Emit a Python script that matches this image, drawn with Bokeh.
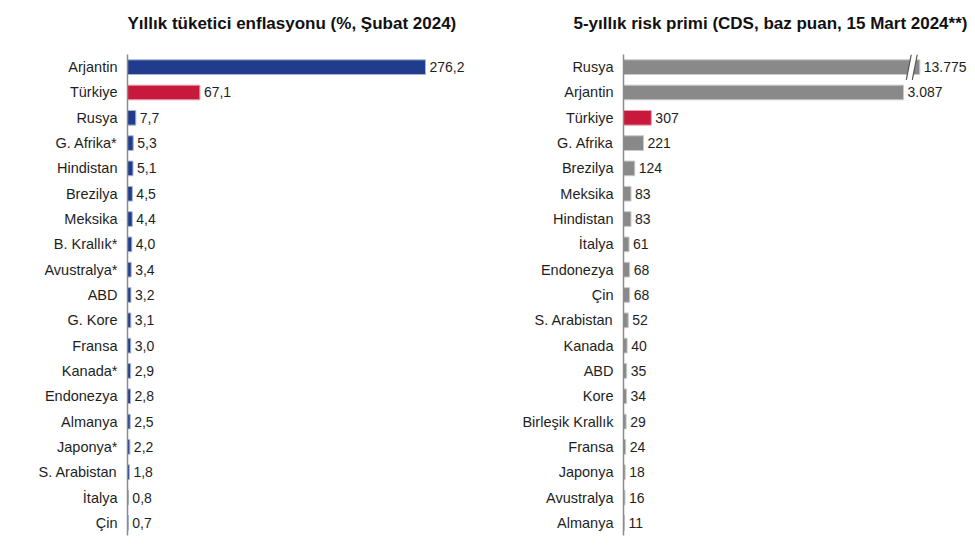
import numpy as np
from bokeh.plotting import figure
from bokeh.layouts import row
from bokeh.models import Range1d, FixedTicker, ColumnDataSource
from bokeh.core.properties import value
from bokeh.embed import file_html
from bokeh.resources import INLINE

# ---- data ----
inf_countries = ["Arjantin", "Türkiye", "Rusya", "G. Afrika*", "Hindistan", "Brezilya", "Meksika",
                 "B. Krallık*", "Avustralya*", "ABD", "G. Kore", "Fransa", "Kanada*", "Endonezya",
                 "Almanya", "Japonya*", "S. Arabistan", "İtalya", "Çin"]
inf_values = [276.2, 67.1, 7.7, 5.3, 5.1, 4.5, 4.4, 4.0, 3.4, 3.2, 3.1, 3.0, 2.9, 2.8, 2.5, 2.2, 1.8, 0.8, 0.7]

cds_countries = ["Rusya", "Arjantin", "Türkiye", "G. Afrika", "Brezilya", "Meksika", "Hindistan",
                 "İtalya", "Endonezya", "Çin", "S. Arabistan", "Kanada", "ABD", "Kore",
                 "Birleşik Krallık", "Fransa", "Japonya", "Avustralya", "Almanya"]
cds_values = [13775, 3087, 307, 221, 124, 83, 83, 61, 68, 68, 52, 40, 35, 34, 29, 24, 18, 16, 11]

highlight = "Türkiye"
cds_break_at = 3267   # axis break: longer bars are drawn truncated here

FONT = value("Liberation Sans")
BLUE = "#213c8c"
BLUE_EDGE = "#a9b6d6"
RED = "#c8183c"
RED_EDGE = "#e5a3b1"
GREY = "#898989"
GREY_EDGE = "#c9c9c9"
TEXT = "#1e1e1e"


def make_panel(title, cats, vals, labels, base_color, base_edge, width, border_left, x_end, title_offset,
               cap=None):
    n = len(cats)
    idx = list(range(n))
    disp = list(np.minimum(vals, cap)) if cap is not None else list(vals)
    colors = [RED if c == highlight else base_color for c in cats]
    edges = [RED_EDGE if c == highlight else base_edge for c in cats]
    src = ColumnDataSource(dict(y=idx, v=disp, c=colors, e=edges, lab=labels))

    p = figure(width=width, height=537, output_backend="svg", toolbar_location=None,
               x_range=Range1d(0, x_end), y_range=Range1d(n - 0.5, -0.5),
               x_axis_location=None,
               min_border_left=border_left, min_border_right=0, min_border_top=54,
               min_border_bottom=2)
    p.outline_line_color = None
    p.background_fill_color = "white"
    p.grid.visible = False

    p.hbar(y="y", left=0, right="v", height=0.58, fill_color="c", line_color="e", line_width=1,
           source=src)
    p.text(x="v", y="y", text="lab", source=src, x_offset=4, text_baseline="middle",
           text_align="left", text_font=FONT, text_font_size="14px", text_color=TEXT)

    yax = p.yaxis[0]
    yax.ticker = FixedTicker(ticks=idx)
    yax.major_label_overrides = {i: c for i, c in enumerate(cats)}
    yax.major_tick_line_color = None
    yax.minor_tick_line_color = None
    yax.axis_line_color = "#8c8c8c"
    yax.axis_line_width = 1.5
    yax.major_label_standoff = 4
    yax.major_label_text_font = "Liberation Sans"
    yax.major_label_text_font_size = "14.5px"
    yax.major_label_text_color = TEXT

    # trailing empty line leaves a gap between the title and the plot area
    p.title.text = title + "\n"
    p.title.align = "left"
    p.title.vertical_align = "top"
    p.title.offset = title_offset
    p.title.standoff = 2
    p.title.text_font = "Liberation Sans"
    p.title.text_font_size = "17px"
    p.title.text_font_style = "bold"
    p.title.text_color = "#111111"

    if cap is not None:
        # break marks on truncated bars
        px_per_unit = (width - border_left) / x_end
        dx = 5.0 / px_per_unit
        gap = 6.0 / px_per_unit
        for i, v in enumerate(vals):
            if v > cap:
                x0 = cap - 8.0 / px_per_unit - gap / 2
                x1 = x0 + gap
                yt, yb = i - 0.5, i + 0.5
                p.patch([x0 - dx / 2, x0 + dx / 2, x1 + dx / 2, x1 - dx / 2],
                        [yb, yt, yt, yb], fill_color="white", line_color=None)
                p.segment(x0=[x0 - dx / 2, x1 - dx / 2], y0=[yb, yb],
                          x1=[x0 + dx / 2, x1 + dx / 2], y1=[yt, yt],
                          line_color="#555555", line_width=1.2)
    return p


inf_labels = [f"{v:.1f}".replace(".", ",") for v in inf_values]
cds_labels = [f"{v:,}".replace(",", ".") for v in cds_values]

p1 = make_panel("Yıllık tüketici enflasyonu (%, Şubat 2024)", inf_countries, inf_values, inf_labels,
                BLUE, BLUE_EDGE, 496, 127, 342, 0)
p2 = make_panel("5-yıllık risk primi (CDS, baz puan, 15 Mart 2024**)", cds_countries, cds_values,
                cds_labels, GREY, GREY_EDGE, 471, 127, 3793, -50, cap=cds_break_at)

layout = row(p1, p2, spacing=0)
open("out.html", "w").write(file_html(layout, INLINE))
